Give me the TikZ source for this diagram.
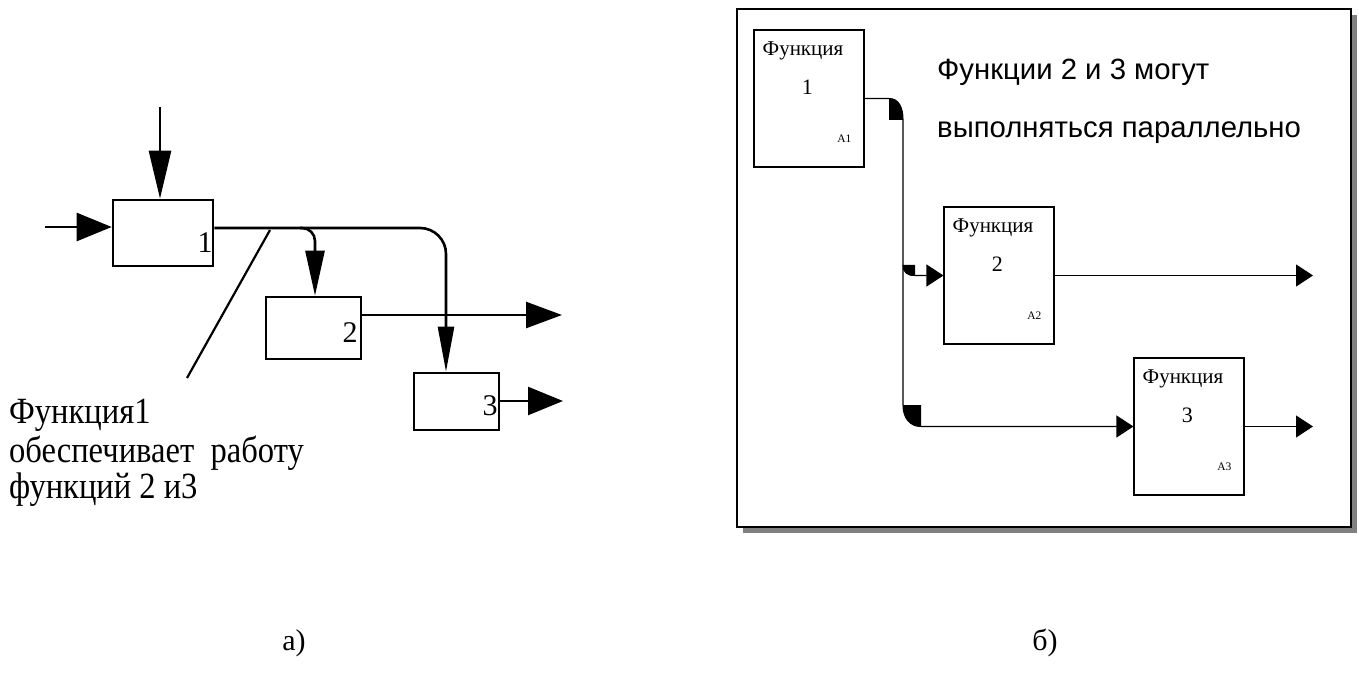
\documentclass[tikz,border=0pt]{standalone}
\usepackage{fontspec}
\setmainfont{Liberation Serif}
\newfontfamily\sansf{Liberation Sans}
\usetikzlibrary{arrows.meta,calc}
\begin{document}
\begin{tikzpicture}[x=1pt,y=-1pt,
  lbox/.style={draw,line width=2.6pt,inner sep=0pt},
  lline/.style={line width=2.6pt},
  rbox/.style={draw,line width=1.1pt,fill=white,inner sep=0pt,minimum width=110pt,minimum height=137pt},
  rline/.style={line width=1.1pt},
  rtip/.style={-{Triangle[length=17pt,width=22pt]}},
  lab/.style={inner sep=0pt,font=\fontsize{30}{30}\selectfont},
  ftxt/.style={inner sep=0pt,anchor=base west,font=\fontsize{21}{21}\selectfont},
  ntxt/.style={inner sep=0pt,anchor=base,font=\fontsize{22}{22}\selectfont},
  atxt/.style={inner sep=0pt,anchor=base,font=\fontsize{11.5}{11.5}\selectfont},
  ctxt/.style={inner sep=0pt,anchor=base west,font=\fontsize{37}{37}\selectfont},
  stxt/.style={inner sep=0pt,anchor=base west,font=\sansf\fontsize{29.3}{29.3}\selectfont},
  captxt/.style={inner sep=0pt,anchor=base,font=\fontsize{30}{30}\selectfont}]
\useasboundingbox (0,0) rectangle (1359,684);
% ---------- left diagram ----------
\node[lbox,minimum width=100pt,minimum height=66pt] (b1) at (163,233) {};
\node[lbox,minimum width=95pt,minimum height=62pt] (b2) at (313.5,328) {};
\node[lbox,minimum width=85pt,minimum height=57pt] (b3) at (456.5,401.5) {};
\node[lab,anchor=base] (n1) at (205,253) {1};
\node[lab,anchor=base] (n2) at (350,342) {2};
\node[lab,anchor=base] (n3) at (490,415) {3};
\coordinate (t1) at (160,107);
\coordinate (i1) at (45,227);
\coordinate (o2) at (562,315);
\coordinate (o3) at (563,401);
\coordinate (d1) at (270,230);
\coordinate (d2) at (187,378);
\draw[lline,-{Triangle[length=48pt,width=22pt]}] (t1) -- (t1 |- b1.north);
\draw[lline,-{Triangle[length=35pt,width=28pt]}] (i1) -- (i1 -| b1.west);
\draw[lline,rounded corners=26pt,-{Triangle[length=45pt,width=16pt]}] (b1.east |- 0,228) -- (446,228) -- (446,0 |- b3.north);
\draw[lline,rounded corners=13pt,-{Triangle[length=45pt,width=19pt]}] (300,228) -- (315,228) -- (315,0 |- b2.north);
\draw[lline,-{Triangle[length=36pt,width=26pt]}] (b2.east |- o2) -- (o2);
\draw[lline,-{Triangle[length=35pt,width=28pt]}] (b3.east |- o3) -- (o3);
\draw[line width=2.2pt] (d1) -- (d2);
\node[ctxt] (c1) at (9,423) {\scalebox{0.88}[1]{Функция1}};
\node[ctxt] (c2) at (9,462) {\scalebox{0.88}[1]{обеспечивает\ \ работу}};
\node[ctxt] (c3) at (9,498) {\scalebox{0.88}[1]{функций 2 и3}};
% ---------- right diagram ----------
\fill[gray] (743,15) rectangle (1357,533);
\draw[line width=2pt,fill=white] (737,9) rectangle (1351,527);
\node[rbox] (A1) at (809,98.5) {};
\node[rbox] (A2) at (999,275.5) {};
\node[rbox] (A3) at (1189,426.5) {};
\foreach \b/\n in {A1/1,A2/2,A3/3}{
  \node[ftxt] at ($(\b.north west)+(9,26)$) {Функция};
  \node[ntxt] at ($(\b.north west)+(54,65)$) {\n};
  \node[atxt] at ($(\b.north west)+(91,113)$) {A\n};
}
\coordinate (r2) at (1313,275.5);
\coordinate (r3) at (1313,426.5);
\fill (889,98.5) .. controls (899,98.5) and (903,108) .. (903,120) -- (889,120) -- cycle;
\fill (903,265) .. controls (903,272) and (907,276) .. (915,276) -- (915,265) -- cycle;
\fill (903,405) .. controls (903,418) and (910,426.5) .. (921,426.5) -- (921,405) -- cycle;
\draw[rline,rtip] (A1.east) -- (889,98.5) .. controls (899,98.5) and (903,108) .. (903,120) -- (903,405) .. controls (903,418) and (910,426.5) .. (921,426.5) -- (A3.west);
\draw[rline,rtip] (903,265) .. controls (903,272) and (907,275.5) .. (915,275.5) -- (A2.west);
\draw[rline,rtip] (A2.east) -- (r2);
\draw[rline,rtip] (A3.east) -- (r3);
\node[stxt] (s1) at (937,80) {Функции 2 и 3 могут};
\node[stxt] (s2) at (937,138) {выполняться параллельно};
% ---------- captions ----------
\node[captxt] (ca) at (294,650) {а)};
\node[captxt] (cb) at (1045,650) {б)};
\end{tikzpicture}
\end{document}
